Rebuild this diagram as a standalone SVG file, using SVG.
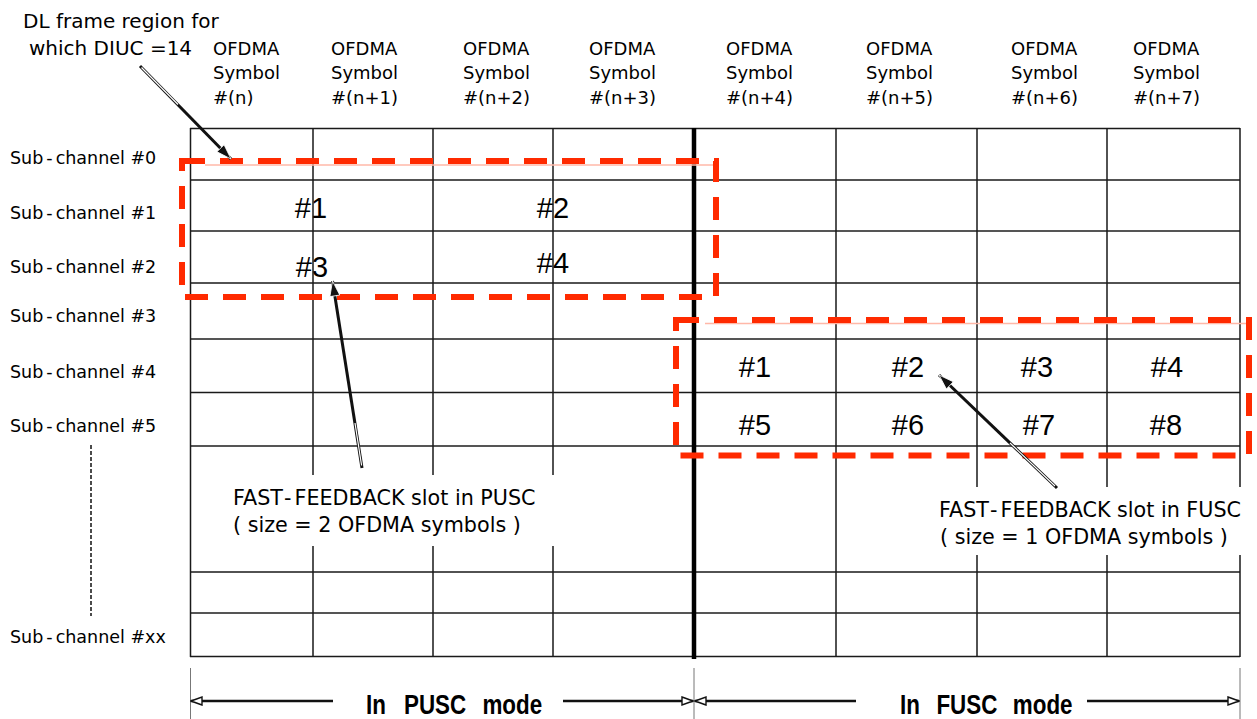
<svg xmlns="http://www.w3.org/2000/svg" width="1257" height="719" viewBox="0 0 1257 719">
<style>
 .t{font-family:"DejaVu Sans",sans-serif;fill:#000}
 .hd{font-size:18px}
 .sc{font-size:17.5px}
 .lb{font-size:20px}
 .nt{font-size:20.7px}
 .num{font-family:"Liberation Sans",Arial,sans-serif;font-size:29px;fill:#000;text-anchor:middle}
 .mode{font-family:"Liberation Sans",Arial,sans-serif;font-size:28px;font-weight:bold;fill:#000}
 .g{stroke:#1a1a1a;stroke-width:1.5;fill:none}
 .g2{stroke:#555;stroke-width:1.8;fill:none}
 .thick{stroke:#000;stroke-width:4.5}
 .red{fill:none;stroke:#ff2a00;stroke-width:6;stroke-dasharray:23 15}
 .pink{stroke:#ffb8a8;stroke-width:1.5}
 .tick{stroke:#777;stroke-width:1}
 .dim{stroke:#111;stroke-width:2.5;fill:none}
 .ptr{stroke:#111;stroke-width:3;fill:none}
 .ptrw{stroke:#fff;stroke-width:1.2;fill:none}
 .dots{stroke:#111;stroke-width:1.5;stroke-dasharray:4 2}
</style>
<defs>
 <marker id="ah" markerWidth="13" markerHeight="10" refX="12" refY="5" orient="auto-start-reverse" markerUnits="userSpaceOnUse"><path d="M1,1 L12,5 L1,9 Z" fill="#fff" stroke="#111" stroke-width="1.4"/></marker>
 <marker id="ph" markerWidth="17" markerHeight="12" refX="16" refY="6" orient="auto" markerUnits="userSpaceOnUse"><path d="M1,1 L16,6 L1,11 Z" fill="#111" stroke="#fff" stroke-width="0.8"/></marker>
</defs>
<rect width="1257" height="719" fill="#fff"/>

<g id="grid">
 <path class="g" d="M190,128.5H1240M190,180H1240M190,283H1240M190,392.5H1240M190,572H1240M190,656.5H1240"/>
 <path class="g2" d="M190,231H1240M190,339H1240M190,446H1240M190,613H1240"/>
 <path class="g" d="M190.5,128V657M313,128V657M433,128V657M553,128V657M836,128V657M977,128V657M1107,128V657M1240,128V657"/>
 <line class="thick" x1="694" y1="128" x2="694" y2="659"/>
</g>

<g id="row-labels" class="t sc">
 <text x="10" y="164">Sub<tspan dx="3">-</tspan><tspan dx="3">channel #0</tspan></text>
 <text x="10" y="219">Sub<tspan dx="3">-</tspan><tspan dx="3">channel #1</tspan></text>
 <text x="10" y="273">Sub<tspan dx="3">-</tspan><tspan dx="3">channel #2</tspan></text>
 <text x="10" y="322">Sub<tspan dx="3">-</tspan><tspan dx="3">channel #3</tspan></text>
 <text x="10" y="378">Sub<tspan dx="3">-</tspan><tspan dx="3">channel #4</tspan></text>
 <text x="10" y="432">Sub<tspan dx="3">-</tspan><tspan dx="3">channel #5</tspan></text>
 <text x="10" y="643">Sub<tspan dx="3">-</tspan><tspan dx="3">channel #xx</tspan></text>
 <line class="dots" x1="91" y1="445" x2="91" y2="616"/>
</g>

<g id="col-labels" class="t hd">
 <text x="213" y="54.5">OFDMA<tspan x="213" y="79">Symbol</tspan><tspan x="213" y="103.5">#(n)</tspan></text>
 <text x="331" y="54.5">OFDMA<tspan x="331" y="79">Symbol</tspan><tspan x="331" y="103.5">#(n+1)</tspan></text>
 <text x="463" y="54.5">OFDMA<tspan x="463" y="79">Symbol</tspan><tspan x="463" y="103.5">#(n+2)</tspan></text>
 <text x="589" y="54.5">OFDMA<tspan x="589" y="79">Symbol</tspan><tspan x="589" y="103.5">#(n+3)</tspan></text>
 <text x="726" y="54.5">OFDMA<tspan x="726" y="79">Symbol</tspan><tspan x="726" y="103.5">#(n+4)</tspan></text>
 <text x="866" y="54.5">OFDMA<tspan x="866" y="79">Symbol</tspan><tspan x="866" y="103.5">#(n+5)</tspan></text>
 <text x="1011" y="54.5">OFDMA<tspan x="1011" y="79">Symbol</tspan><tspan x="1011" y="103.5">#(n+6)</tspan></text>
 <text x="1133" y="54.5">OFDMA<tspan x="1133" y="79">Symbol</tspan><tspan x="1133" y="103.5">#(n+7)</tspan></text>
</g>

<g id="dl-label" class="t lb">
 <text x="23" y="27.5">DL frame region for</text>
 <text x="29" y="54.5">which DIUC =14</text>
</g>

<g id="pusc-region">
 <line class="pink" x1="205" y1="165" x2="716" y2="165"/>
 <rect class="red" x="182" y="161" width="534" height="136"/>
 <text class="num" x="311" y="218">#1</text>
 <text class="num" x="553" y="218">#2</text>
 <text class="num" x="312" y="277">#3</text>
 <text class="num" x="553" y="273">#4</text>
</g>

<g id="fusc-region">
 <line class="pink" x1="705" y1="323.5" x2="1248" y2="323.5"/>
 <rect class="red" x="676" y="320" width="573" height="135.5"/>
 <text class="num" x="755" y="377">#1</text>
 <text class="num" x="908" y="377">#2</text>
 <text class="num" x="1037" y="377">#3</text>
 <text class="num" x="1167" y="377">#4</text>
 <text class="num" x="755" y="435">#5</text>
 <text class="num" x="908" y="435">#6</text>
 <text class="num" x="1039" y="435">#7</text>
 <text class="num" x="1166" y="435">#8</text>
</g>

<g id="pusc-note">
 <rect x="225" y="475" width="335" height="71" fill="#fff"/>
 <text class="t nt" x="233" y="505">FAST<tspan dx="3">-</tspan><tspan dx="3">FEEDBACK slot in PUSC</tspan></text>
 <text class="t nt" x="233" y="531.5">( size = 2 OFDMA symbols )</text>
</g>

<g id="fusc-note">
 <rect x="930" y="487" width="320" height="68" fill="#fff"/>
 <text class="t nt" x="939" y="517">FAST<tspan dx="3">-</tspan><tspan dx="3">FEEDBACK slot in FUSC</tspan></text>
 <text class="t nt" x="940" y="544">( size = 1 OFDMA symbols )</text>
</g>

<g id="connectors">
 <line class="ptr" x1="140" y1="66" x2="231" y2="159" marker-end="url(#ph)"/>
 <line class="ptrw" x1="141.5" y1="67.5" x2="178" y2="104.5"/>
 <line class="ptr" x1="362" y1="468" x2="332.5" y2="281" marker-end="url(#ph)"/>
 <line class="ptrw" x1="361.6" y1="465.5" x2="355" y2="423"/>
 <line class="ptr" x1="1057" y1="488" x2="939" y2="375" marker-end="url(#ph)"/>
 <line class="ptrw" x1="1055" y1="486" x2="1010" y2="443"/>
</g>

<g id="mode-dims">
 <path class="tick" d="M190.5,668V719M694,668V719M1240,668V719"/>
 <line class="dim" x1="191" y1="701" x2="333" y2="701" marker-start="url(#ah)"/>
 <line class="dim" x1="563" y1="701" x2="693" y2="701" marker-end="url(#ah)"/>
 <line class="dim" x1="695" y1="701" x2="856" y2="701" marker-start="url(#ah)"/>
 <line class="dim" x1="1087" y1="701" x2="1239" y2="701" marker-end="url(#ah)"/>
 <text class="mode" transform="translate(366,714) scale(0.8,1)">In<tspan x="47.5">PUSC</tspan><tspan x="145.5">mode</tspan></text>
 <text class="mode" transform="translate(900,714) scale(0.8,1)">In<tspan x="45.5">FUSC</tspan><tspan x="141">mode</tspan></text>
</g>
</svg>
